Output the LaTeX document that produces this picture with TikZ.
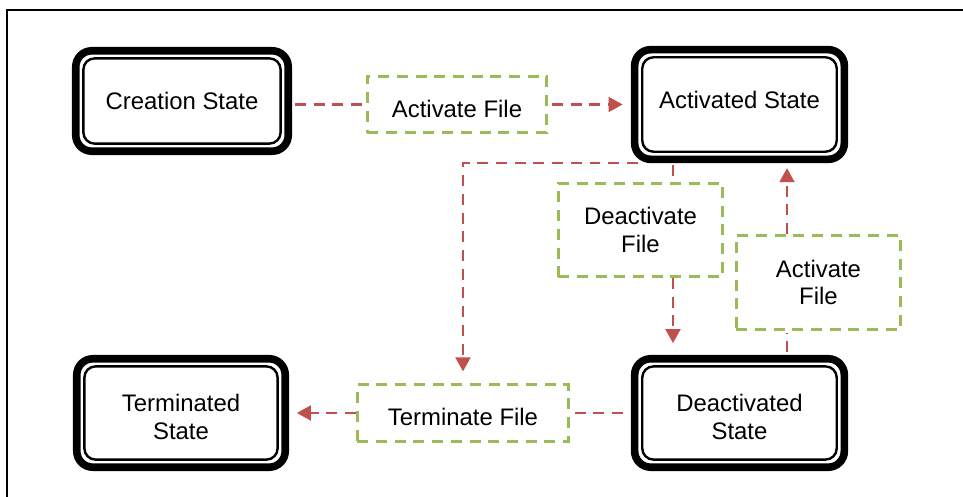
\documentclass[tikz,border=0pt]{standalone}
\usepackage{fontspec}
\setmainfont{Liberation Sans}
\usetikzlibrary{arrows.meta,positioning,calc}
\definecolor{flowred}{HTML}{C0504D}
\definecolor{actgreen}{HTML}{9BBB59}
\tikzstyle{state} = [draw=black, line width=0.19cm, rounded corners=0.4cm, outer sep=0pt, inner sep=0pt, align=center, font=\fontsize{17}{19.5}\selectfont]
\tikzstyle{action} = [draw=actgreen, line width=1.9pt, dash pattern=on 7.8pt off 5.5pt, inner sep=0pt, align=center, font=\fontsize{17}{19.5}\selectfont]
\tikzstyle{link} = [draw=flowred, line width=1.9pt, dash pattern=on 7.8pt off 5.5pt]
\tikzstyle{flow} = [link, >={Triangle[length=10pt,width=10.5pt]}, ->]
\newcommand{\lowstrut}{\rule{0pt}{18pt}}

\begin{document}
\begin{tikzpicture}[x=0.025cm, y=-0.025cm]
    \useasboundingbox (0,0) rectangle (963,497);
    \draw[line width=1.5pt] (7,497) -- (7,10) -- (963,10);

    % states
    \node[state, minimum width=5.31cm, minimum height=2.51cm] (creation) at (182,101) {Creation State};
    \node[state, minimum width=5.24cm, minimum height=2.74cm, text depth=6.4pt] (activated) at (739.5,104.5) {Activated State};
    \node[state, minimum width=5.21cm, minimum height=2.71cm] (terminated) at (181,413) {\lowstrut Terminated\\State};
    \node[state, minimum width=5.24cm, minimum height=2.71cm] (deactivated) at (739.5,413) {\lowstrut Deactivated\\State};
    \foreach \s in {creation,activated,terminated,deactivated}
      \draw[line width=1.7pt, rounded corners=0.28cm] ([shift={(0.19cm,-0.19cm)}]\s.north west) rectangle ([shift={(-0.19cm,0.19cm)}]\s.south east);

    % actions
    \node[action, minimum width=4.48cm, minimum height=1.4cm, text height=18pt] (actTop) at (457,104.5) {Activate File};
    \node[action, minimum width=4.11cm, minimum height=2.33cm] (deactFile) at (640.5,230) {Deactivate\\File};
    \node[action, minimum width=4.11cm, minimum height=2.36cm] (actRight) at (818.5,282.5) {Activate\\File};
    \node[action, minimum width=5.28cm, minimum height=1.41cm, text height=18pt] (termFile) at (463,413) {Terminate File};

    % lanes
    \coordinate (laneD) at (673,0);
    \coordinate (laneA) at (787,0);

    % arrows
    \draw[link, shorten <=0.17cm, shorten >=0.1cm] (creation.east |- actTop.west) -- (actTop.west);
    \draw[flow, shorten <=0.1cm, shorten >=0.3cm] (actTop.east) -- (actTop.east -| activated.west);
    \draw[flow, shorten >=0.3cm] ([xshift=0.08cm,yshift=-0.094cm]activated.south west) -| (termFile.north);
    \draw[link, shorten <=0.15cm] (activated.south -| laneD) -- (deactFile.north -| laneD);
    \draw[flow, shorten >=0.39cm] (deactFile.south -| laneD) -- (deactivated.north -| laneD);
    \draw[link, shorten <=0.17cm, shorten >=0.05cm] (deactivated.north -| laneA) -- (actRight.south -| laneA);
    \draw[flow, shorten >=0.22cm] (actRight.north -| laneA) -- (activated.south -| laneA);
    \draw[link, shorten <=0.29cm, shorten >=0.12cm] (deactivated.west) -- (termFile.east);
    \draw[flow, shorten >=0.29cm] (termFile.west) -- (terminated.east);
\end{tikzpicture}
\end{document}
